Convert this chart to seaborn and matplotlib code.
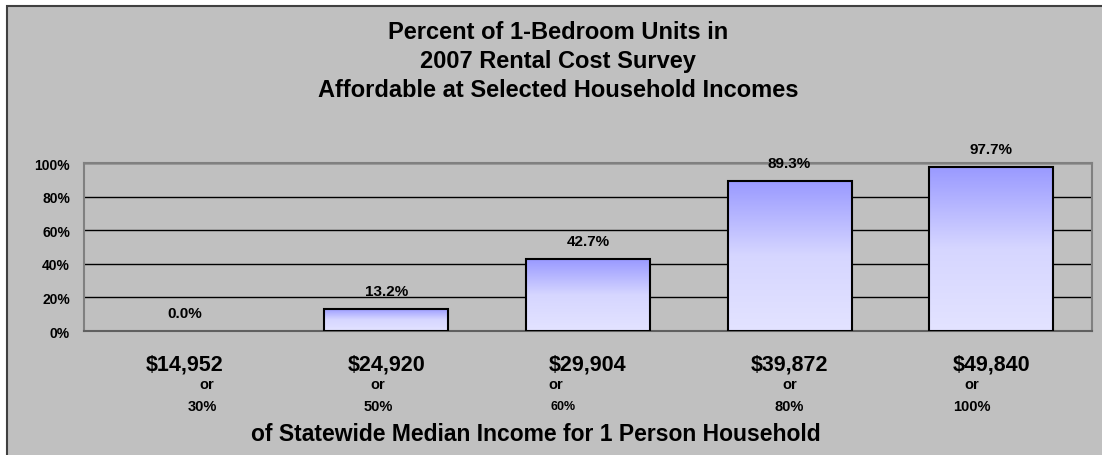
import numpy as np
import matplotlib
matplotlib.use('Agg')
import matplotlib.pyplot as plt
import seaborn as sns
from matplotlib.colors import LinearSegmentedColormap
from matplotlib.patches import Rectangle
from matplotlib.ticker import FixedLocator

# data
incomes = ['$14,952', '$24,920', '$29,904', '$39,872', '$49,840']
pct_of_median = ['30%', '50%', '60%', '80%', '100%']
pct_affordable = [0.0, 13.2, 42.7, 89.3, 97.7]
y_ticks = [0, 20, 40, 60, 80, 100]

sns.set_style('white')
plt.rcParams['font.family'] = ['Liberation Sans', 'DejaVu Sans']
plt.rcParams['text.color'] = 'black'
plt.rcParams['xtick.color'] = 'black'
plt.rcParams['ytick.color'] = 'black'
plt.rcParams['xtick.labelcolor'] = 'black'
plt.rcParams['ytick.labelcolor'] = 'black'

W, H = 1102, 456
fig = plt.figure(figsize=(W / 100, H / 100), dpi=100, facecolor='white')

# chart border (cropped on the right and bottom)
bg = '#C0C0C0'
fig.patches.append(Rectangle((7 / W, -0.1), 1.2, 1.1 - 7 / H, transform=fig.transFigure,
                             facecolor=bg, edgecolor='#404040', linewidth=1.5, zorder=-1))

ax = fig.add_axes([84 / W, 1 - 332 / H, (1092 - 84) / W, (332 - 164) / H])
ax.set_facecolor(bg)

sns.barplot(x=incomes, y=pct_affordable, color='#9999FF', edgecolor='black',
            linewidth=1.5, width=0.615, ax=ax, zorder=3)

ax.set_xlim(-0.5, len(incomes) - 0.5)
ax.set_ylim(0, 100)

# vertical gradient inside each bar
cmap = LinearSegmentedColormap.from_list('bar', ['#E3E3FF', '#D6D6FF', '#9999FF'])
grad = np.linspace(0, 1, 256).reshape(-1, 1)
for p in ax.patches:
    x0, y0 = p.get_x(), p.get_y()
    w, h = p.get_width(), p.get_height()
    if h <= 0:
        p.set_linewidth(0)
        continue
    im = ax.imshow(grad, cmap=cmap, aspect='auto', origin='lower',
                   extent=[x0, x0 + w, y0, y0 + h], zorder=2.9)
    im.set_clip_path(p)
    p.set_facecolor('none')
ax.set_xlim(-0.5, len(incomes) - 0.5)
ax.set_ylim(0, 100)

# value labels
ax.bar_label(ax.containers[0], labels=[f'{v:.1f}%' for v in pct_affordable],
             padding=8, fontsize=11, fontweight='bold', color='black')

# axes styling
ax.set_yticks(y_ticks)
ax.set_yticklabels([f'{t}%' for t in y_ticks], fontsize=10, fontweight='bold')
ax.yaxis.grid(True, color='black', linewidth=1)
ax.set_axisbelow(True)
for s in ['top', 'right', 'left']:
    ax.spines[s].set_color('#808080')
    ax.spines[s].set_linewidth(1.5)
ax.spines['bottom'].set_color('#606060')
ax.spines['bottom'].set_linewidth(1.5)
ax.tick_params(axis='y', length=5, width=1.2, color='#808080', pad=5)

ax.xaxis.set_minor_locator(FixedLocator(np.arange(-0.5, len(incomes), 1.0)))
ax.tick_params(axis='x', which='major', length=0, pad=16, labelsize=15.5)
ax.tick_params(axis='x', which='minor', length=5, width=1.2, color='#808080')
for lab in ax.get_xticklabels():
    lab.set_fontweight('bold')
ax.set_xlabel('')
ax.set_ylabel('')

# "or" / percent-of-median lines under each income
or_dx = [22, -9, -32, 0, -19]
pct_dx = [18, -8, -25, 0, -19]
pct_size = [10.5, 10.5, 9, 10.5, 10.5]
for i, pm in enumerate(pct_of_median):
    ax.annotate('or', xy=(i, 0), xycoords=ax.get_xaxis_transform(),
                xytext=(or_dx[i] * 0.72, -53 * 0.72), textcoords='offset points',
                ha='center', va='center', fontsize=10.5, fontweight='bold')
    ax.annotate(pm, xy=(i, 0), xycoords=ax.get_xaxis_transform(),
                xytext=(pct_dx[i] * 0.72, -75 * 0.72), textcoords='offset points',
                ha='center', va='center', fontsize=pct_size[i], fontweight='bold')

fig.text(536 / W, 1 - 435 / H, 'of Statewide Median Income for 1 Person Household',
         ha='center', va='center', fontsize=16.5, fontweight='bold')

fig.text(558 / W, 1 - 21 / H,
         'Percent of 1-Bedroom Units in\n2007 Rental Cost Survey\nAffordable at Selected Household Incomes',
         ha='center', va='top', fontsize=17, fontweight='bold', linespacing=1.32)

fig.savefig('out.png', dpi=100, facecolor='white')
